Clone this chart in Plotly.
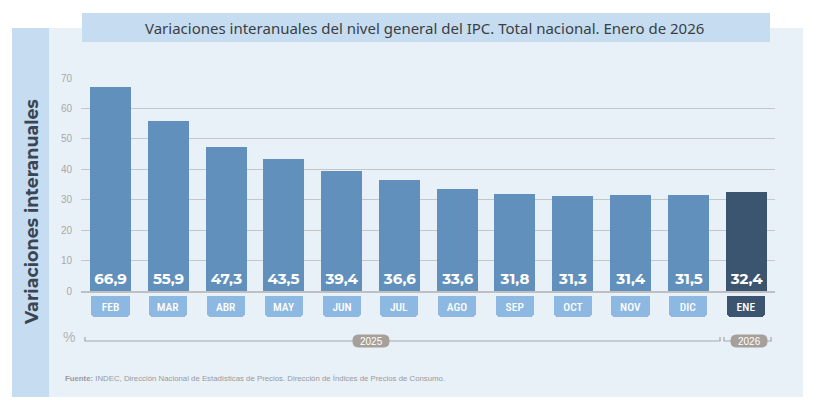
import plotly.graph_objects as go

months = ["FEB", "MAR", "ABR", "MAY", "JUN", "JUL", "AGO", "SEP", "OCT", "NOV", "DIC", "ENE"]
values = [66.9, 55.9, 47.3, 43.5, 39.4, 36.6, 33.6, 31.8, 31.3, 31.4, 31.5, 32.4]
years = ["2025", "2026"]
yticks = [0, 10, 20, 30, 40, 50, 60, 70]

OFF = 8  # page body margin
W, H = 810, 398
L, R, T, B = 81, 775, 78, 396  # plot area bounds in reference pixels
PW, PH = R - L, B - T


def px(xp):
    return (xp - L) / PW


def py(yp):
    return (B - yp) / PH


bar_col = "#6190BC"
last_col = "#3B5470"
lab_col = "#8DB8E2"
colors = [bar_col] * (len(months) - 1) + [last_col]
lab_colors = [lab_col] * (len(months) - 1) + [last_col]
x_idx = list(range(len(months)))

fig = go.Figure()
fig.add_trace(go.Bar(
    x=x_idx, y=values, width=0.71, marker=dict(color=colors, line=dict(width=0)),
    text=[f"{v:.1f}".replace(".", ",") for v in values], textposition="inside",
    insidetextanchor="start", textangle=0,
    textfont=dict(family="Montserrat, 'Open Sans', sans-serif", size=15, color="white", weight="bold"),
    hoverinfo="skip", xaxis="x", yaxis="y", cliponaxis=False,
))
fig.add_trace(go.Bar(
    x=x_idx, y=[-1] * len(months), width=0.66, marker=dict(color=lab_colors, line=dict(width=0), cornerradius=4),
    text=months, textposition="inside", insidetextanchor="middle", textangle=0,
    textfont=dict(family="'Roboto Condensed', 'Liberation Sans Narrow', 'Roboto', sans-serif", size=11.5,
                  color="white", weight=500),
    hoverinfo="skip", xaxis="x", yaxis="y2",
))

y0_dom = py(291)
fig.update_layout(
    width=W, height=H, autosize=False,
    margin=dict(l=L - OFF, r=W - (R - OFF), t=T - OFF, b=H - (B - OFF), pad=0, autoexpand=False),
    paper_bgcolor="white", plot_bgcolor="rgba(0,0,0,0)",
    showlegend=False, bargap=0,
    xaxis=dict(range=[-0.51, 11.5], showticklabels=False, showgrid=False, zeroline=False, automargin=False,
               showline=True, linecolor="#BDBFC2", linewidth=1.5, anchor="y", fixedrange=True),
    yaxis=dict(domain=[y0_dom, 1], range=[0, 70], tickvals=yticks, automargin=False,
               showgrid=True, gridcolor="#C4C6C8", gridwidth=1.2, zeroline=False,
               tickfont=dict(family="Liberation Sans, Arial", size=10, color="#A9A9A9"),
               ticklabelstandoff=8, showline=False, fixedrange=True),
    yaxis2=dict(domain=[py(317), py(296)], range=[-1, 0], visible=False, fixedrange=True, anchor="x",
                automargin=False),
    font=dict(family="Liberation Sans, Arial"),
)

shapes = [
    dict(type="rect", xref="paper", yref="paper", x0=px(49), x1=px(803), y0=py(397), y1=py(28),
         fillcolor="#E8F0F8", line=dict(width=0), layer="below"),
    dict(type="rect", xref="paper", yref="paper", x0=px(12), x1=px(49), y0=py(397), y1=py(28),
         fillcolor="#C6DCF0", line=dict(width=0), layer="below"),
    dict(type="rect", xref="paper", yref="paper", x0=px(82), x1=px(770), y0=py(42), y1=py(13),
         fillcolor="#C6DCF0", line=dict(width=0), layer="below"),
]


def rounded_rect(x0, y0, x1, y1, r):
    pts = [
        ("M", [(x0 + r, y0)]), ("L", [(x1 - r, y0)]), ("Q", [(x1, y0), (x1, y0 + r)]),
        ("L", [(x1, y1 - r)]), ("Q", [(x1, y1), (x1 - r, y1)]), ("L", [(x0 + r, y1)]),
        ("Q", [(x0, y1), (x0, y1 - r)]), ("L", [(x0, y0 + r)]), ("Q", [(x0, y0), (x0 + r, y0)]),
    ]
    s = ""
    for cmd, ps in pts:
        s += cmd + " " + " ".join(f"{px(a):.5f},{py(b):.5f}" for a, b in ps) + " "
    return s + "Z"


by = 341
xl = [85, 724]
xr = [720, 771]
pill_x = [371, 749]
pill_w = 37
annotations = []
for i, yr in enumerate(years):
    a, b = xl[i], xr[i]
    shapes.append(dict(type="path", xref="paper", yref="paper",
                       path=f"M {px(a)},{py(by - 4)} L {px(a)},{py(by)} L {px(b)},{py(by)} L {px(b)},{py(by - 4)}",
                       line=dict(color="#A7A7A7", width=1.2)))
    shapes.append(dict(type="path", xref="paper", yref="paper",
                       path=rounded_rect(pill_x[i] - pill_w / 2, by - 6.5, pill_x[i] + pill_w / 2, by + 6.5, 6),
                       fillcolor="#A79F99", line=dict(width=0)))
    annotations.append(dict(xref="paper", yref="paper", x=px(pill_x[i]), y=py(by), text=yr,
                            showarrow=False,
                            font=dict(family="Liberation Sans, Arial", size=10, color="white"),
                            xanchor="center", yanchor="middle"))

annotations += [
    dict(xref="paper", yref="paper", x=px(424), y=py(27.5), text="Variaciones interanuales del nivel general del IPC. Total nacional. Enero de 2026",
         showarrow=False, xanchor="center", yanchor="middle",
         font=dict(family="'Noto Sans', 'Open Sans', sans-serif", size=15, color="#3A3F44")),
    dict(xref="paper", yref="paper", x=px(31), y=py(212), text="<b>Variaciones interanuales</b>", textangle=-90,
         showarrow=False, xanchor="center", yanchor="middle",
         font=dict(family="Montserrat, 'Open Sans', sans-serif", size=17.5, color="#3A4654")),
    dict(xref="paper", yref="paper", x=px(69), y=py(337), text="%", showarrow=False,
         xanchor="center", yanchor="middle", font=dict(family="Liberation Sans, Arial", size=14, color="#B3B3B3")),
    dict(xref="paper", yref="paper", x=px(63), y=py(378),
         text="<b>Fuente:</b> INDEC, Dirección Nacional de Estadísticas de Precios. Dirección de Índices de Precios de Consumo.",
         showarrow=False, xanchor="left", yanchor="middle",
         font=dict(family="Liberation Sans, Arial", size=7.8, color="#9A9A9A")),
]

fig.update_layout(shapes=shapes, annotations=annotations)
fig.write_html("out.html")
